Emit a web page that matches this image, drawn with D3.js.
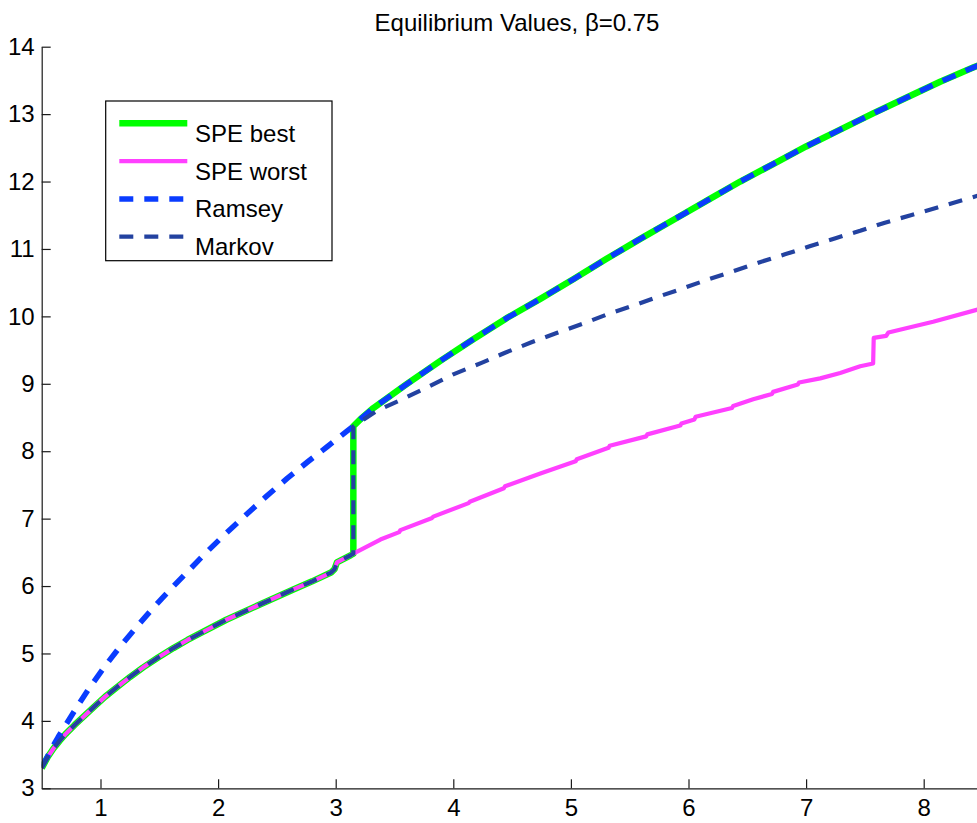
<!DOCTYPE html>
<html>
<head>
<meta charset="utf-8">
<script src="https://cdn.jsdelivr.net/npm/d3@7/dist/d3.min.js"></script>
<style>
  html, body { margin: 0; padding: 0; background: #fff; }
  svg { display: block; }
  text { font-family: "Liberation Sans", Arial, Helvetica, sans-serif; }
</style>
</head>
<body>
<svg id="chart" width="977" height="823"></svg>
<script>
// ---- Data ----
const titleText = "Equilibrium Values,  \u03B2=0.75";
const xTicks = [1, 2, 3, 4, 5, 6, 7, 8];
const yTicks = [3, 4, 5, 6, 7, 8, 9, 10, 11, 12, 13, 14];
const xDomain = [0.5, 8.5];
const yDomain = [3, 14];

const seriesNames = ["SPE best", "SPE worst", "Ramsey", "Markov"];

// branch shared by SPE best, SPE worst and Markov (x < 3.15)
const commonLow = [
  [0.5, 3.30], [0.55, 3.46], [0.60, 3.59], [0.65, 3.70], [0.70, 3.80],
  [0.78, 3.94], [0.86, 4.07], [0.94, 4.20], [1.04, 4.36], [1.14, 4.50],
  [1.25, 4.65], [1.36, 4.79], [1.49, 4.94], [1.62, 5.08], [1.74, 5.20],
  [1.85, 5.30], [2.07, 5.50], [2.36, 5.73], [2.64, 5.95], [2.80, 6.07],
  [2.96, 6.20], [2.99, 6.25], [3.01, 6.35], [3.13, 6.46], [3.15, 6.48]
];
// Ramsey before it joins the SPE best path
const ramseyLow = [
  [0.5, 3.32], [0.54, 3.44], [0.59, 3.61], [0.64, 3.76], [0.74, 4.04],
  [0.82, 4.26], [0.91, 4.50], [1.05, 4.84], [1.18, 5.13], [1.32, 5.42],
  [1.45, 5.68], [1.60, 5.96], [1.75, 6.23], [1.90, 6.50], [2.06, 6.77],
  [2.24, 7.06], [2.41, 7.33], [2.59, 7.60], [2.76, 7.84], [2.93, 8.07],
  [3.09, 8.29]
];
// upper branch shared by SPE best and Ramsey (x >= 3.15)
const upperBranch = [
  [3.15, 8.37], [3.22, 8.49], [3.32, 8.64], [3.60, 8.99], [3.89, 9.34],
  [4.17, 9.66], [4.45, 9.97], [4.74, 10.26], [5.02, 10.55], [5.30, 10.85],
  [5.59, 11.15], [5.87, 11.43], [6.16, 11.72], [6.44, 12.00], [6.72, 12.26],
  [7.00, 12.52], [7.29, 12.77], [7.57, 13.01], [7.86, 13.25], [8.14, 13.48],
  [8.42, 13.69], [8.5, 13.75]
];
// Markov after the jump
const markovUpper = [
  [3.15, 8.37], [3.35, 8.60], [3.59, 8.79], [3.78, 8.95], [4.00, 9.14],
  [4.24, 9.31], [4.44, 9.46], [4.67, 9.62], [4.89, 9.76], [5.10, 9.89],
  [5.31, 10.03], [5.53, 10.16], [5.74, 10.29], [5.96, 10.42], [6.17, 10.55],
  [6.38, 10.67], [6.60, 10.80], [6.82, 10.92], [7.03, 11.04], [7.25, 11.16],
  [7.46, 11.27], [7.67, 11.39], [7.89, 11.50], [8.11, 11.61], [8.32, 11.72],
  [8.5, 11.81]
];
// SPE worst after x = 3.15
const worstUpper = [
  [3.15, 6.48], [3.38, 6.69], [3.54, 6.80], [3.55, 6.83], [3.82, 7.01],
  [3.83, 7.03], [4.13, 7.23], [4.14, 7.25], [4.43, 7.45], [4.44, 7.48],
  [4.74, 7.67], [5.04, 7.85], [5.05, 7.88], [5.32, 8.05], [5.33, 8.08],
  [5.64, 8.22], [5.65, 8.25], [5.93, 8.38], [5.94, 8.41], [6.05, 8.47],
  [6.06, 8.51], [6.37, 8.64], [6.38, 8.67], [6.55, 8.77], [6.71, 8.85],
  [6.72, 8.88], [6.93, 8.99], [6.94, 9.02], [7.12, 9.08], [7.29, 9.16],
  [7.46, 9.26], [7.57, 9.30], [7.575, 9.68], [7.68, 9.71], [7.70, 9.76],
  [8.08, 9.92], [8.5, 10.12]
];

const speBest = commonLow.concat(upperBranch);
const speWorst = commonLow.concat(worstUpper);
const ramsey = ramseyLow.concat(upperBranch);
const markov = commonLow.concat(markovUpper);

// ---- Layout ----
const svg = d3.select("#chart");
const W = 977, H = 823;
const m = { left: 41.7, top: 46.7, right: 982.5, bottom: 788.3 };

svg.append("rect").attr("width", W).attr("height", H).attr("fill", "#fff");

const x = d3.scaleLinear().domain(xDomain).range([m.left, m.right]);
const y = d3.scaleLinear().domain(yDomain).range([m.bottom, m.top]);

const styles = [
  { data: speBest, color: "#00ff00", width: 6.5, dash: null },
  { data: speWorst, color: "#ff40ff", width: 4.2, dash: null },
  { data: ramsey, color: "#0a3cff", width: 5.5, dash: "14,11" },
  { data: markov, color: "#2342a0", width: 4.2, dash: "14,11" }
];

const line = d3.line().x(d => x(d[0])).y(d => y(d[1]));

svg.append("clipPath").attr("id", "plotclip")
  .append("rect").attr("x", m.left).attr("y", m.top - 10)
  .attr("width", m.right - m.left).attr("height", m.bottom - m.top + 10);

const gLines = svg.append("g").attr("clip-path", "url(#plotclip)");
styles.forEach(s => {
  gLines.append("path")
    .attr("d", line(s.data))
    .attr("fill", "none")
    .attr("stroke", s.color)
    .attr("stroke-width", s.width)
    .attr("stroke-dasharray", s.dash)
    .attr("stroke-linejoin", "round");
});

// ---- Axes ----
const fontSize = 24;
const yAxis = d3.axisLeft(y).tickValues(yTicks).tickFormat(d3.format("d"))
  .tickSizeInner(-9).tickSizeOuter(0).tickPadding(7);
const xAxis = d3.axisBottom(x).tickValues(xTicks).tickFormat(d3.format("d"))
  .tickSizeInner(-9).tickSizeOuter(0).tickPadding(11);

const gy = svg.append("g").attr("transform", `translate(${m.left},0)`).call(yAxis);
const gx = svg.append("g").attr("transform", `translate(0,${m.bottom})`).call(xAxis);
[gx, gy].forEach(g => {
  g.selectAll("path.domain").attr("stroke", "#1a1a1a").attr("stroke-width", 1.2);
  g.selectAll(".tick line").attr("stroke", "#1a1a1a").attr("stroke-width", 1.2);
  g.selectAll(".tick text").attr("fill", "#000")
    .style("font-size", fontSize + "px")
    .style("font-family", "'Liberation Sans', Arial, sans-serif");
});

// ---- Title ----
svg.append("text")
  .attr("x", 517)
  .attr("y", 31)
  .attr("text-anchor", "middle")
  .style("font-size", "24px")
  .attr("fill", "#000")
  .text(titleText);

// ---- Legend ----
const lg = svg.append("g");
const lgBox = { x: 105.7, y: 101, w: 226.3, h: 159.7 };
lg.append("rect").attr("x", lgBox.x).attr("y", lgBox.y)
  .attr("width", lgBox.w).attr("height", lgBox.h)
  .attr("fill", "#fff").attr("stroke", "#000").attr("stroke-width", 1.2);
const rowY = d3.scaleLinear().domain([0, 3]).range([123.3, 236.7]);
styles.forEach((s, i) => {
  lg.append("line")
    .attr("x1", 119.3).attr("x2", 187.3)
    .attr("y1", rowY(i)).attr("y2", rowY(i))
    .attr("stroke", s.color).attr("stroke-width", s.width)
    .attr("stroke-dasharray", s.dash);
  lg.append("text")
    .attr("x", 195).attr("y", rowY(i) + 18.4)
    .style("font-size", fontSize + "px")
    .attr("fill", "#000")
    .text(seriesNames[i]);
});
</script>
</body>
</html>
